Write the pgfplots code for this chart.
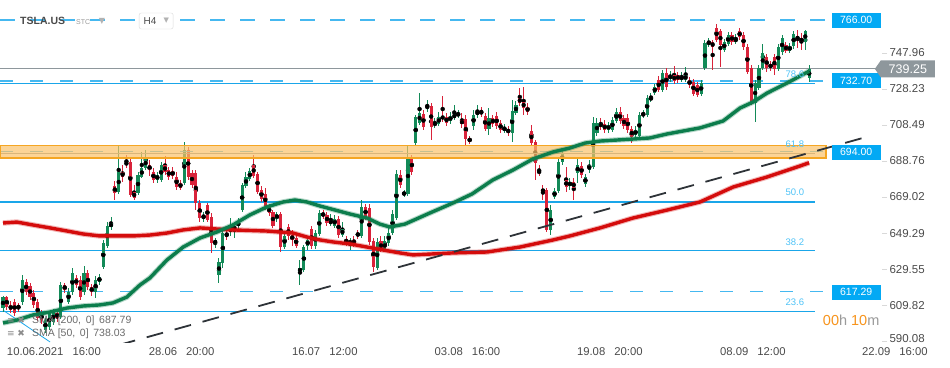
\documentclass[border=0pt]{standalone}
\usepackage{pgfplots}
\pgfplotsset{compat=1.18}
\usepackage{pgfplotstable}
\usepackage{fontspec}
\setmainfont{Liberation Sans}
\newfontfamily\dejavu{DejaVu Sans}
\usetikzlibrary{shapes.symbols}
\definecolor{upc}{HTML}{138A58}
\definecolor{dnc}{HTML}{D9233A}
\definecolor{smaG}{HTML}{0C7D4C}
\definecolor{smaR}{HTML}{D40C0C}
\definecolor{fibc}{HTML}{1AA6E9}
\definecolor{dashc}{HTML}{45B8F0}
\definecolor{fibtxt}{HTML}{4FC3F7}
\definecolor{boxc}{HTML}{03A9F4}
\definecolor{pricec}{HTML}{8E979C}
\definecolor{bandc}{HTML}{FBC26A}
\definecolor{bandedge}{HTML}{F5A623}
\definecolor{trendc}{HTML}{2E3338}
\definecolor{labc}{HTML}{4A4A4A}
\definecolor{orangec}{HTML}{F7941D}
\definecolor{greyc}{HTML}{9A9A9A}

\pgfplotstableread{
o h l c
608 615 606 614
614 615 607 609
610 612 605.5 607
611.5 613 604 605.5
609.9 611 606 607.7
611.5 626.3 609.9 623.6
622.5 624 615.3 617
620.3 622 612.6 614.2
616.4 618 608.2 609.9
611.5 613 601 602.7
605.5 607 599.4 601.6
596.2 602.7 594.5 601.6
597.8 606.6 596.2 605.5
600.5 607.7 598.9 606
605.5 606.6 600.5 602.7
603.3 622.5 602.2 620.8
620.8 621.9 616.4 618.1
611.5 619 610.4 617
617 630.1 615.3 627.4
624.7 626.3 619.2 620.8
623.6 625.8 612.6 614.2
617 631.2 615.3 627.4
627.4 629 618.1 619.7
619.7 621.4 614.8 617
617 625.8 613.7 623.6
622.5 626.8 620.8 625.2
630.7 645.5 629.6 643.8
642.2 655.3 641.1 653.2
652.6 658.1 651 654.8
675.1 677.8 667.4 671.2
671.8 697 670.7 682.7
682.7 686.6 677.3 680
688.2 692.1 685 686.6
688.2 690.4 669 670.1
671.8 675.6 667.4 668.5
671.2 682.7 670.1 681.1
680 693.7 679.5 684.9
684.9 694.8 683.8 690.4
686.6 689.3 680.6 683.8
682.7 684.9 676.7 678.4
678.4 682.7 676.7 681.1
678.4 688.2 677.3 686.6
686.6 691.5 681.1 682.7
683.8 685.5 678.4 680
683.3 685.5 678.9 680.6
680 682.7 672.9 674.5
676.7 678.4 672.9 674
676.7 699.2 675.6 694.8
694.8 696.4 678.4 680
682.2 683.8 674 675.6
682.2 683.8 661.9 665.8
665.8 667.4 655.3 657.5
657.5 660.8 655.3 659.2
664.7 665.8 655.3 656.4
658.1 660.3 638.4 643.8
643.3 646.6 641.1 645.5
626.3 635.6 621.9 633.4
632.9 652.1 630.1 649.3
649.3 651 645.5 647.7
649.9 657.5 647.7 652.1
651 655.3 646.6 653.2
653.2 657.5 651 655.3
661.9 676.7 660.8 675.6
675.1 682.7 674 680
678.9 684.9 677.8 683.3
686.6 692.1 679.5 680.6
681.6 682.7 670.7 671.8
672.9 675.1 666.3 667.9
670.7 674 661.9 664.1
663.6 665.2 658.6 660.3
660.8 661.9 652.1 653.2
657 660.8 655.3 659.7
659.7 660.8 638.9 641.6
641.6 649.9 640.5 647.7
652.6 654.2 645.5 647.7
648.2 651 642.2 645.5
646.6 648.2 641.1 642.2
627.9 634.5 620.8 630.1
629 642.7 627.9 641.6
642.2 647.7 640 645.5
651.5 653.2 640.5 642.2
642.2 651 640.5 649.3
648.8 661.9 647.7 660.3
660.3 661.9 657 658.6
659.2 660.8 653.2 654.8
654.2 659.7 653.2 656.4
653.4 659.2 652 657
657 658.6 646.6 648.2
648.2 655.3 647.1 651.5
646 647.7 642.2 643.8
643.8 646.6 640 644.9
645.5 647.7 641.6 643.3
649.3 651 646 647.7
647.7 667.4 646.6 663.6
663.6 665.2 656.4 658.1
663 665.2 642.7 644.4
644.9 646.6 628 630.7
630.1 646.6 629 644.4
644.9 647.7 638.9 640
640 647.7 638.9 644.9
643.8 652.1 642.2 649.3
649.3 661.9 648.2 659.7
657.5 683.8 656.4 681.6
681.1 683.8 674 675.6
670.1 672.9 669 671.8
670.7 697.5 669.6 690.4
690.4 692.1 681.1 682.7
698.6 714 697.5 712.9
709.6 726 708.5 715.1
714.5 716.7 705.8 707.4
717.8 722.2 715.6 718.9
718.9 720.6 700.3 707.4
708.5 712.3 706.9 709.6
709 715.6 708 712.9
713.4 724.4 710.1 711.8
712.9 715.1 708 709.6
710.7 715.6 709 713.4
712.3 719.5 711.2 714.5
713.4 716.7 712.3 715.1
711.2 715.1 706.9 709
711.8 714 697.5 700.8
701.4 702.5 698.1 699.2
708 716.7 705.8 714
714 719.5 712.3 716.2
716.2 718.4 712.9 714.5
713.4 715.1 705.2 706.3
706.3 717.8 703 712.3
712.3 714 707.4 709
713.4 715.6 706.3 708
709.6 711.2 704.1 705.8
705.2 709 704.1 707.4
706.3 708 702.5 704.1
704.1 722.2 699.2 716.2
715.1 721.7 714 719.5
723.3 728.8 718.9 720.6
721.1 729.3 714 717.8
718.4 720.6 714 715.6
705.2 708.5 697.5 698.6
699.2 700.3 678.4 687.7
683.3 686.6 680.6 682.2
673.4 675.6 667.4 671.8
672.9 674 649.9 651
651 664.7 648.2 661.9
669 674 667.9 672.3
672.3 690.4 671.2 688.2
688.2 694.8 686.6 693.2
678.4 685.5 671.8 674.5
675.1 679.5 672.9 677.3
677.3 679.5 667.4 674
682.2 691 676.7 686.6
686 688.2 679.5 681.1
676.2 681.6 674.5 680
683.8 689.3 682.2 686.6
685.5 712.9 684.4 709.6
704.1 712.3 702.5 709.6
709.6 712.3 705.8 707.4
709 711.2 704.1 705.8
705.8 710.1 704.1 708.5
705.8 712.9 704.7 711.2
710.7 717.8 709.6 715.6
715.6 718.4 709 710.7
712.3 714 706.3 708
712.3 714.5 704.1 705.8
706.3 708 698.6 701.9
703 708 701.4 705.8
702.5 715.6 701.4 714
714 716.7 712.3 714.5
714 725 712.9 723.3
722.2 726 721.1 723.8
726 731 724.9 729.3
733.2 735.4 726.6 727.7
727.7 738.6 726.6 737
737 739.7 727.7 729.3
733.7 738.1 732.1 735.9
735.9 740.8 731 732.6
735.9 737.5 731.5 733.2
733.2 737.5 732.1 735.4
733.2 740.3 732.1 735.9
733.2 734.8 728.8 730.4
732.1 733.7 724.4 725.5
730.4 732.1 723.8 724.9
725.5 733.2 724.4 731.5
739.7 755.1 738.6 753.4
752.9 756.2 751.2 754
754 755.1 738.6 751.2
761.7 763.8 754 755.1
760 761.1 740.3 752.3
749.6 755.6 748.5 754
752.9 759.5 751.8 757.8
757.8 759.5 752.3 754
754 758.4 752.9 756.2
760 761.7 755.1 756.7
757.8 759.5 749.6 751.2
751.2 752.9 736.4 737.5
739.7 741.4 719.5 720.6
720.6 733.2 710.1 731.5
728.8 741.4 727.7 739.7
739.7 752.9 738.6 748
745.8 747.4 737.5 739.7
741.9 743.6 738.1 739.7
745.8 747.4 735.9 739.2
739.2 752.9 738.1 751.2
748.5 757.8 746.9 756.2
752.3 754 748 749.1
749.1 753.4 748 751.8
751.8 760 750.1 758.4
757.3 760.6 750.7 755.1
756.2 758.9 749.6 754
754 760.6 749.6 760
734.2 741.4 732.1 739.25
}\candles

\pgfplotstableread{
x y
0 600.0
3.6 601.6
7.8 604.4
12.2 606
16.6 608.2
20.7 609.3
25.1 609.9
28.5 611
32.1 614.2
35.5 620.8
38.1 624.7
42.5 634.5
46.7 641.6
51.1 646.6
55.5 649.9
59.6 653.7
64 659.2
68.4 663.6
72.6 666.3
75.7 667.4
78.8 666.3
82.2 664.1
86.1 661.9
90 659.7
94.4 657.5
97.7 654.2
100.3 652.6
104.2 654.2
110.7 660.3
116.7 665.8
121.6 670.7
127 678.4
132.2 683.8
137.4 689.9
142.6 693.7
147 695.9
150.9 698.6
154.8 699.7
163.3 700.8
167.7 701.4
172.2 703.6
180.7 706.9
186.7 710.7
191.1 717.8
194.5 721.1
198.1 726
203.3 731.5
209 738.0
}\smafifty

\pgfplotstableread{
x y
0 654.8
3.6 655.3
7.8 653.7
12.2 652.1
16.6 650.4
20.7 648.8
25.1 647.7
33.7 647.7
38.1 648.2
42.5 649.3
46.7 651
51.1 652.1
55.5 651.5
59.6 651
68.4 650.4
75.2 649.3
78.8 647.1
82.2 645.5
85.6 644.4
90 643.3
94.4 641.6
98.5 640
102.9 638.4
106.3 637.3
116.7 638.4
125.5 638.9
134 641.6
142.6 645.5
147 647.7
154.8 652.1
163.3 657.5
172.2 661.9
180.7 666.3
189.3 674.5
198.1 680
206.6 686
209 687.8
}\smatwohundred

\begin{document}
\begin{tikzpicture}
\begin{axis}[
  scale only axis, width=882pt, height=342pt,
  xmin=-0.78, xmax=227.9, ymin=589.58, ymax=777,
  axis line style={draw=none},
  clip mode=individual,
  ytick={590.08,609.82,629.55,649.29,669.02,688.76,708.49,728.23,747.96},
  yticklabels={\raisebox{5pt}{590.08},609.82,629.55,649.29,669.02,688.76,708.49,728.23,747.96},
  ytick pos=right, yticklabel pos=right,
  tick align=outside, major tick length=5pt,
  ytick style={draw=black!15, line width=0.6pt},
  yticklabel style={font=\fontsize{11.5}{12}\selectfont, text=labc, anchor=west, xshift=-1pt},
  xtick={0.5,37.3,74.4,111.4,148.3,185.4,222.2},
  xticklabels={10.06.2021\hspace{9pt}16:00, 28.06\hspace{9pt}20:00, 16.07\hspace{9pt}12:00, 03.08\hspace{9pt}16:00, 19.08\hspace{9pt}20:00, 08.09\hspace{9pt}12:00, 22.09\hspace{9pt}16:00},
  xtick style={draw=none},
  xticklabel style={font=\fontsize{11.3}{12}\selectfont, text=labc, anchor=north west, xshift=-1.5pt, yshift=3pt},
]
% horizontal levels
\addplot[forget plot, fibc, line width=1.1pt] coordinates {(-1,731.2) (210.5,731.2)};
\addplot[forget plot, fibc, line width=1.1pt] coordinates {(-1,666.3) (210.5,666.3)};
\addplot[forget plot, fibc, line width=1.1pt] coordinates {(-1,639.5) (210.5,639.5)};
\addplot[forget plot, fibc, line width=1.1pt] coordinates {(-1,606.4) (210.5,606.4)};
\addplot[forget plot, dashc, line width=1.5pt, dash pattern=on 15pt off 15pt] coordinates {(-0.78,766) (214.3,766)};
\addplot[forget plot, dashc, line width=1.5pt, dash pattern=on 13pt off 17pt] coordinates {(-0.78,732.7) (214.3,732.7)};
\addplot[forget plot, dashc, line width=1.5pt, dash pattern=on 13pt off 17pt] coordinates {(-0.78,617.29) (214.3,617.29)};
\addplot[forget plot, pricec, line width=1.1pt] coordinates {(-0.78,739.25) (226.6,739.25)};
\addplot[forget plot, fibc, line width=0.8pt] coordinates {(0,607) (12.2,589.6)};

% candles: wicks
\addplot[forget plot, only marks, mark=none, error bars/.cd, y dir=both, y explicit, error mark=none, error bar style={upc, line width=1pt}]
  table[x expr=\coordindex, y expr={(\thisrow{c}>=\thisrow{o}) ? 0.5*(\thisrow{h}+\thisrow{l}) : nan}, y error expr={0.5*(\thisrow{h}-\thisrow{l})}] {\candles};
\addplot[forget plot, only marks, mark=none, error bars/.cd, y dir=both, y explicit, error mark=none, error bar style={dnc, line width=1pt}]
  table[x expr=\coordindex, y expr={(\thisrow{c}<\thisrow{o}) ? 0.5*(\thisrow{h}+\thisrow{l}) : nan}, y error expr={0.5*(\thisrow{h}-\thisrow{l})}] {\candles};
% candles: bodies
\addplot[forget plot, only marks, mark=none, error bars/.cd, y dir=both, y explicit, error mark=none, error bar style={upc, line width=3.2pt}]
  table[x expr=\coordindex, y expr={(\thisrow{c}>=\thisrow{o}) ? 0.5*(\thisrow{o}+\thisrow{c}) : nan}, y error expr={max(0.5*abs(\thisrow{c}-\thisrow{o}),0.45)}] {\candles};
\addplot[forget plot, only marks, mark=none, error bars/.cd, y dir=both, y explicit, error mark=none, error bar style={dnc, line width=3.2pt}]
  table[x expr=\coordindex, y expr={(\thisrow{c}<\thisrow{o}) ? 0.5*(\thisrow{o}+\thisrow{c}) : nan}, y error expr={max(0.5*abs(\thisrow{c}-\thisrow{o}),0.45)}] {\candles};

% level 694 and band
\addplot[forget plot, dashc, line width=1.5pt, dash pattern=on 13pt off 17pt] coordinates {(-0.78,694) (214.3,694)};
\addplot[forget plot, pricec, line width=0.8pt] coordinates {(-0.78,693.1) (210.5,693.1)};
\addplot[forget plot, fill=bandc, fill opacity=0.7, draw=bandedge, line width=1.2pt] coordinates {(-0.78,690.4) (213.4,690.4) (213.4,697.1) (-0.78,697.1) (-0.78,690.4)};

% SMAs
\addplot[forget plot, smaR, line width=5.5pt, opacity=0.3] table[x=x,y=y] {\smatwohundred};
\addplot[forget plot, smaR, line width=3.4pt] table[x=x,y=y] {\smatwohundred};
\addplot[forget plot, smaG, line width=5.5pt, opacity=0.3] table[x=x,y=y] {\smafifty};
\addplot[forget plot, smaG, line width=3.4pt] table[x=x,y=y] {\smafifty};

% trend line
\addplot[forget plot, trendc, line width=1.8pt, dash pattern=on 17pt off 12pt] coordinates {(30,587.9) (223.8,701.9)};

% level boxes
\tikzset{lvlbox/.style={fill=boxc, text=white, minimum width=49pt, minimum height=15pt, inner sep=0pt, font=\fontsize{10.5}{11}\selectfont}}
\node[lvlbox] at (axis cs:221.2,766) {766.00};
\node[lvlbox] at (axis cs:221.2,732.7) {732.70};
\node[lvlbox] at (axis cs:221.2,693.6) {694.00};
\node[lvlbox] at (axis cs:221.2,616.8) {617.29};
\node[signal, signal to=west, signal pointer angle=110, fill=pricec, text=white, minimum width=60pt, minimum height=17pt, inner sep=1pt, font=\fontsize{12.5}{13}\selectfont] at (axis cs:234.6,739.25) {739.25};

% fib labels
\tikzset{fibl/.style={text=fibtxt, font=\fontsize{9.5}{10}\selectfont, inner sep=0pt}}
\node[fibl] at (axis cs:205.3,736.4) {78.6};
\node[fibl] at (axis cs:205.3,698.2) {61.8};
\node[fibl] at (axis cs:205.3,671.4) {50.0};
\node[fibl] at (axis cs:205.3,644.1) {38.2};
\node[fibl] at (axis cs:205.3,611.3) {23.6};

% countdown
\node[font=\fontsize{14.5}{15}\selectfont, inner sep=0pt] at (axis cs:219.9,601.4) {\textcolor{orangec}{00}\textcolor{greyc}{h} \textcolor{orangec}{10}\textcolor{greyc}{m}};

% header
\node[anchor=west, inner sep=0pt, text=labc, font=\fontsize{10.5}{11}\selectfont\bfseries] at (axis cs:4.4,765.3) {TSLA.US};
\node[anchor=west, inner sep=0pt, text=greyc, font=\fontsize{7}{8}\selectfont] at (axis cs:18.9,764.8) {STC};
\node[anchor=west, inner sep=0pt, text=black!30, font=\dejavu\fontsize{8}{8}\selectfont] at (axis cs:24.8,765.5) {▼};
\node[draw=black!15, fill=white, rounded corners=2pt, minimum width=34pt, minimum height=16pt, inner sep=0pt] at (axis cs:39.7,765.5) {};
\node[anchor=west, inner sep=0pt, text=labc, font=\fontsize{10}{11}\selectfont] at (axis cs:36.4,765.3) {H4};
\node[anchor=west, inner sep=0pt, text=black!30, font=\dejavu\fontsize{7}{8}\selectfont] at (axis cs:41.6,765.5) {▼};

% SMA legend
\node[anchor=west, inner sep=0pt, text=black!45, font=\dejavu\fontsize{9}{10}\selectfont] at (axis cs:1.0,601.3) {≡ ✖};
\node[anchor=west, inner sep=0pt, text=black!45, font=\dejavu\fontsize{9}{10}\selectfont] at (axis cs:1.0,594.2) {≡ ✖};
\node[anchor=west, inner sep=0pt, text=black!58, font=\fontsize{10.5}{11}\selectfont] at (axis cs:7.5,601.1) {SMA [200,\, 0]\, 687.79};
\node[anchor=west, inner sep=0pt, text=black!58, font=\fontsize{10.5}{11}\selectfont] at (axis cs:7.5,594.0) {SMA [50,\, 0]\, 738.03};
\end{axis}
\pgfresetboundingbox
\path[use as bounding box] (0pt,-25pt) rectangle (950pt,342pt);
\end{tikzpicture}
\end{document}
